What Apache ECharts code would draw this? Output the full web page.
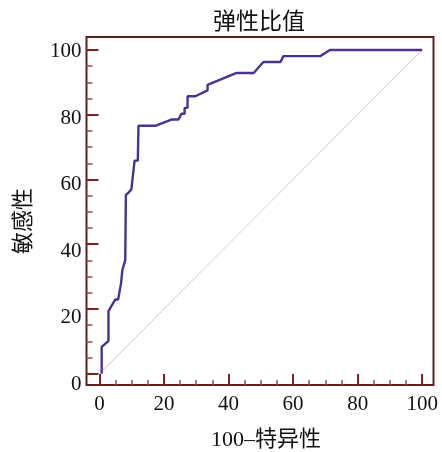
<!DOCTYPE html>
<html>
<head>
<meta charset="utf-8">
<script src="https://cdn.jsdelivr.net/npm/echarts@6/dist/echarts.min.js"></script>
<style>
html,body{margin:0;padding:0;background:#fff;}
#chart{width:442px;height:452px;}
</style>
</head>
<body>
<div id="chart"></div>
<script>
// ROC curve: 100-specificity (x) vs sensitivity (y)
const fprValues = [0.7, 0.7, 2.8, 2.8, 4.9, 5.8, 6.7, 7.1, 8.0, 8.2, 9.0, 9.9, 10.9, 11.9, 12.1, 17.5, 22.3, 24.5, 25.4, 26.4, 26.4, 27.3, 27.3, 29.7, 33.5, 33.5, 42.5, 47.8, 50.8, 56.1, 57.0, 68.5, 71.4, 100];
const tprValues = [0, 8.3, 10.1, 19.3, 22.9, 22.9, 27.9, 32.0, 35.1, 55.2, 55.9, 57.0, 65.8, 65.8, 76.6, 76.6, 78.5, 78.5, 80.3, 80.3, 82.1, 82.1, 85.7, 85.7, 87.5, 89.2, 92.9, 92.9, 96.3, 96.3, 98.1, 98.1, 100, 100];
const refX = [0, 100];
const refY = [0, 100];
const majorTicks = [0, 20, 40, 60, 80, 100];
const minorTicks = [5, 10, 15, 25, 30, 35, 45, 50, 55, 65, 70, 75, 85, 90, 95];
const tickLabels = ['0', '20', '40', '60', '80', '100'];

const serif = '"Liberation Serif", "Noto Sans CJK SC", serif';
const frameColor = '#5e1f1f';
const majorColor = '#7a2424';
const minorColor = '#9a4a4a';

const rocData = fprValues.map((v, i) => [v, tprValues[i]]);
const refData = refX.map((v, i) => [v, refY[i]]);

const noLine = {show: false, onZero: false};

const chart = echarts.init(document.getElementById('chart'), null, {renderer: 'canvas'});
chart.setOption({
  backgroundColor: '#fff',
  animation: false,
  title: {
    text: '弹性比值',
    left: 208,
    top: 6,
    textStyle: {fontFamily: serif, fontSize: 23, fontWeight: 'normal', color: '#111'}
  },
  grid: {
    left: 86.5, right: 8.5, top: 37, bottom: 67,
    show: true, borderColor: frameColor, borderWidth: 2,
    outerBoundsMode: 'none'
  },
  xAxis: [
    {
      type: 'value', min: -4, max: 103.5, position: 'bottom',
      axisLine: noLine,
      splitLine: {show: false},
      axisTick: {inside: true, length: 11, customValues: majorTicks, lineStyle: {color: majorColor, width: 2}},
      axisLabel: {
        customValues: majorTicks, margin: 9, fontFamily: serif, fontSize: 21, color: '#111',
        formatter: v => tickLabels[majorTicks.indexOf(v)]
      },
      name: '100–特异性', nameLocation: 'middle', nameGap: 44,
      nameTextStyle: {fontFamily: serif, fontSize: 22, color: '#111', padding: [0, 0, 0, 12]}
    },
    {
      type: 'value', min: -4, max: 103.5, position: 'bottom',
      axisLine: noLine, splitLine: {show: false}, axisLabel: {show: false},
      axisTick: {inside: true, length: 5, customValues: minorTicks, lineStyle: {color: minorColor, width: 1.5}}
    }
  ],
  yAxis: [
    {
      type: 'value', min: -3.5, max: 104, position: 'left',
      axisLine: noLine, splitLine: {show: false}, axisLabel: {show: false},
      axisTick: {inside: true, length: 12, customValues: majorTicks, lineStyle: {color: majorColor, width: 2}},
      name: '敏感性', nameLocation: 'middle', nameGap: 51, nameRotate: 90,
      nameTextStyle: {fontFamily: serif, fontSize: 22, color: '#111', padding: [0, 20, 0, 0]}
    },
    {
      type: 'value', min: -3.5, max: 104, position: 'left',
      axisLine: noLine, splitLine: {show: false}, axisLabel: {show: false},
      axisTick: {inside: true, length: 6, customValues: minorTicks, lineStyle: {color: minorColor, width: 1.5}}
    },
    {
      type: 'value', min: -0.3, max: 104.5, position: 'left',
      axisLine: noLine, splitLine: {show: false}, axisTick: {show: false},
      axisLabel: {
        customValues: majorTicks, margin: 5, fontFamily: serif, fontSize: 21, color: '#111',
        formatter: v => tickLabels[majorTicks.indexOf(v)]
      }
    }
  ],
  series: [
    {
      type: 'line', data: refData, xAxisIndex: 0, yAxisIndex: 0,
      symbol: 'none', silent: true,
      lineStyle: {color: '#e2c4c4', width: 1}, z: 1
    },
    {
      type: 'line', data: rocData, xAxisIndex: 0, yAxisIndex: 0,
      symbol: 'none', silent: true,
      lineStyle: {color: '#4a3290', width: 2.4}, z: 3
    }
  ]
});
</script>
</body>
</html>
